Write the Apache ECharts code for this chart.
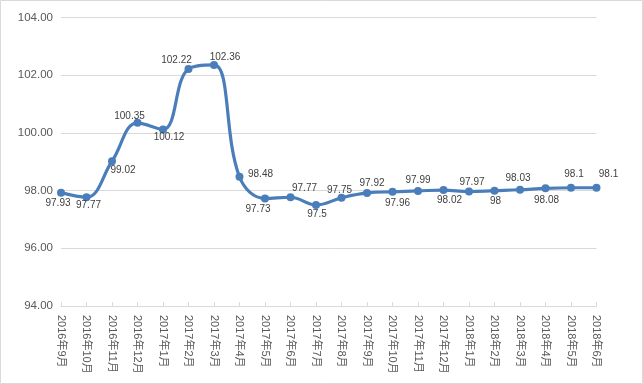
<!DOCTYPE html>
<html>
<head>
<meta charset="utf-8">
<script src="https://cdn.jsdelivr.net/npm/echarts@6/dist/echarts.min.js"></script>
<style>
html,body{margin:0;padding:0;background:#fff;}
#chart{width:643px;height:384px;}
</style>
</head>
<body>
<div id="chart"></div>
<script>
const categories = ['2016年9月','2016年10月','2016年11月','2016年12月','2017年1月','2017年2月','2017年3月','2017年4月','2017年5月','2017年6月','2017年7月','2017年8月','2017年9月','2017年10月','2017年11月','2017年12月','2018年1月','2018年2月','2018年3月','2018年4月','2018年5月','2018年6月'];
const values = [97.93,97.77,99.02,100.35,100.12,102.22,102.36,98.48,97.73,97.77,97.5,97.75,97.92,97.96,97.99,98.02,97.97,98,98.03,98.08,98.1,98.1];
const yTicks = {min:94, max:104, interval:2};

// label placement (style only): offset of label centre from its point
const labelOffsets = [[-3,11],[2,8],[11,9],[-8,-7],[6,8],[-12,-9],[11,-8],[21,-3],[-7,11],[14,-9],[1,9],[-2,-8],[5,-10],[5,11],[0,-11],[6,10],[3,-9],[1,11],[-2,-12],[1,12],[3,-14],[12,-14]];

const chart = echarts.init(document.getElementById('chart'));
const data = values.map((v,i)=>({
  value:v,
  label:{offset:labelOffsets[i]}
}));
chart.setOption({
  animation:false,
  graphic:[{type:'rect',shape:{x:0.5,y:0.5,width:642,height:383},style:{fill:'none',stroke:'#d9d9d9',lineWidth:1}}],
  grid:{left:61,right:46.5,top:17.6,bottom:78,containLabel:false},
  xAxis:{
    type:'category',
    data:categories,
    boundaryGap:false,
    axisLine:{lineStyle:{color:'#d9d9d9',width:1}},
    axisTick:{inside:true,length:4,lineStyle:{color:'#d9d9d9'}},
    axisLabel:{rotate:-90,margin:9,color:'#595959',fontSize:11,fontFamily:'Liberation Sans, Noto Sans CJK SC',interval:0}
  },
  yAxis:{
    type:'value',
    min:yTicks.min,max:yTicks.max,interval:yTicks.interval,
    axisLine:{show:false},
    axisTick:{show:false},
    splitLine:{lineStyle:{color:'#d9d9d9',width:1}},
    axisLabel:{margin:8,color:'#595959',fontSize:11.5,fontFamily:'Liberation Sans',formatter:v=>v.toFixed(2)}
  },
  series:[{
    type:'line',
    data:data,
    smooth:0.4,
    symbol:'circle',
    symbolSize:8,
    lineStyle:{color:'#4a7ebb',width:3.2},
    itemStyle:{color:'#4a7ebb'},
    label:{show:true,position:'inside',color:'#404040',fontSize:10,fontFamily:'Liberation Sans',formatter:p=>String(p.value)}
  }]
});
</script>
</body>
</html>
